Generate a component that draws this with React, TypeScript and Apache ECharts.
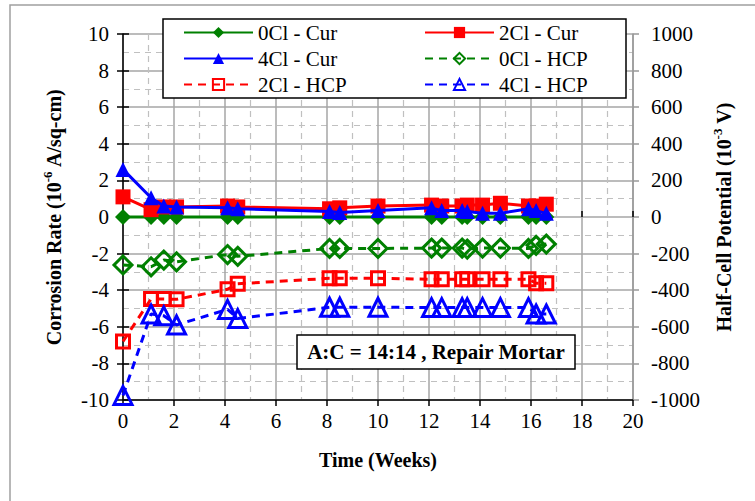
import React, { useEffect, useRef } from 'react';
import * as echarts from 'echarts';

const weeks = [0, 1.1, 1.6, 2.1, 4.1, 4.5, 8.1, 8.5, 10, 12.1, 12.5, 13.3, 13.5, 14.1, 14.8, 15.9, 16.2, 16.6];
const cur0 = [0, 0, 0, 0, 0, 0, 0, 0, 0, 0, 0, 0, 0, 0, 0, 0, 0, 0];
const cur2 = [1.1, 0.4, 0.55, 0.55, 0.6, 0.55, 0.45, 0.5, 0.6, 0.65, 0.6, 0.6, 0.65, 0.65, 0.75, 0.6, 0.6, 0.7];
const cur4 = [2.6, 1.05, 0.6, 0.55, 0.5, 0.45, 0.3, 0.25, 0.35, 0.5, 0.35, 0.35, 0.3, 0.2, 0.2, 0.45, 0.35, 0.2];
const hcp0 = [-262, -272, -235, -245, -205, -215, -172, -172, -172, -170, -170, -170, -175, -170, -170, -172, -155, -148];
const hcp2 = [-680, -448, -448, -450, -395, -365, -335, -335, -335, -340, -340, -340, -340, -340, -340, -340, -362, -362];
const hcp4 = [-975, -530, -540, -590, -505, -555, -493, -493, -493, -495, -495, -495, -495, -495, -495, -495, -530, -530];

const xTicks = { min: 0, max: 20, interval: 2 };
const leftTicks = { min: -10, max: 10, interval: 2 };
const rightTicks = { min: -1000, max: 1000, interval: 200 };

const seriesNames = ['0Cl - Cur', '2Cl - Cur', '4Cl - Cur', '0Cl - HCP', '2Cl - HCP', '4Cl - HCP'];
const annotation = 'A:C = 14:14 , Repair Mortar';

const FONT = 'Liberation Serif';
const GREEN = '#008000';
const RED = '#ff0000';
const BLUE = '#0000ff';

const pair = (ys: number[]) => weeks.map((w, i) => [w, ys[i]]);

export default function App() {
  const ref = useRef<HTMLDivElement>(null);
  useEffect(() => {
    document.body.style.margin = '0';
    const chart = echarts.init(ref.current!, null, { renderer: 'svg' });
    const labelStyle = { color: '#000', fontSize: 21, fontFamily: FONT };
    const titleRich = {
      b: { fontSize: 20, fontWeight: 'bold', fontFamily: FONT, color: '#000', lineHeight: 26 },
      s: { fontSize: 13, fontWeight: 'bold', fontFamily: FONT, color: '#000', verticalAlign: 'top', lineHeight: 14 },
    };
    const plain = (v: number) => String(v);
    const option: any = {
      animation: false,
      backgroundColor: '#fff',
      textStyle: { fontFamily: FONT },
      grid: { left: 123, right: 122, top: 34, bottom: 101 },
      xAxis: [
        {
          type: 'value', ...xTicks, position: 'bottom',
          axisLine: { show: true, onZero: false, lineStyle: { color: '#000', width: 1.5 } },
          axisTick: { show: true, length: 6, lineStyle: { color: '#000', width: 1.5 } },
          axisLabel: { ...labelStyle, margin: 10, formatter: plain },
          splitLine: { show: true, lineStyle: { color: '#a6a6a6', width: 1.5 } },
          minorTick: { show: false, splitNumber: 2 },
          minorSplitLine: { show: true, lineStyle: { color: '#c0c0c0', width: 1.2, type: [6, 5] } },
          name: 'Time (Weeks)', nameLocation: 'middle', nameGap: 50,
          nameTextStyle: { fontSize: 20, fontWeight: 'bold', fontFamily: FONT, color: '#000' },
        },
        {
          type: 'value', ...xTicks, position: 'bottom',
          axisLine: { show: false },
          axisTick: { show: true, inside: true, length: 6, lineStyle: { color: '#000', width: 1.5 } },
          axisLabel: { show: false }, splitLine: { show: false },
        },
      ],
      yAxis: [
        {
          type: 'value', ...leftTicks, position: 'left',
          axisLine: { show: true, onZero: false, lineStyle: { color: '#000', width: 1.5 } },
          axisTick: { show: true, length: 6, lineStyle: { color: '#000', width: 1.5 } },
          axisLabel: { ...labelStyle, margin: 14, formatter: plain },
          splitLine: { show: true, lineStyle: { color: '#a6a6a6', width: 1.5 } },
          minorTick: { show: false, splitNumber: 2 },
          minorSplitLine: { show: true, lineStyle: { color: '#c0c0c0', width: 1.2, type: [6, 5] } },
          name: '{b|Corrosion Rate (10}{s|-6}{b| A/sq-cm)}', nameLocation: 'middle', nameRotate: 90, nameGap: 56,
          nameTextStyle: { rich: titleRich },
        },
        {
          type: 'value', ...rightTicks, position: 'right',
          axisLine: { show: true, onZero: false, lineStyle: { color: '#999', width: 1.5 } },
          axisTick: { show: true, length: 6, lineStyle: { color: '#999', width: 1.5 } },
          axisLabel: { ...labelStyle, margin: 18, formatter: plain },
          splitLine: { show: false },
          name: '{b|Half-Cell Potential (10}{s|-3}{b| V)}', nameLocation: 'middle', nameRotate: 90, nameGap: 72,
          nameTextStyle: { rich: titleRich },
        },
        {
          type: 'value', ...leftTicks, position: 'left',
          axisLine: { show: false },
          axisTick: { show: true, inside: true, length: 6, lineStyle: { color: '#000', width: 1.5 } },
          axisLabel: { show: false }, splitLine: { show: false },
        },
      ],
      legend: [
        {
          data: [seriesNames[0], seriesNames[2], seriesNames[4]],
          orient: 'vertical', left: 183, top: 22, itemWidth: 69, itemHeight: 14, itemGap: 5, padding: 0,
          textStyle: { ...labelStyle }, selectedMode: false,
        },
        {
          data: [seriesNames[1], seriesNames[3], seriesNames[5]],
          orient: 'vertical', left: 424, top: 22, itemWidth: 69, itemHeight: 14, itemGap: 5, padding: 0,
          textStyle: { ...labelStyle }, selectedMode: false,
        },
      ],
      graphic: [
        { type: 'rect', z: 0, silent: true, shape: { x: 10, y: 5, width: 800, height: 600 }, style: { fill: 'none', stroke: '#a0a0a0', lineWidth: 1.5 } },
        { type: 'rect', z: 3, silent: true, shape: { x: 163, y: 19, width: 463, height: 79 }, style: { fill: '#fff', stroke: '#000', lineWidth: 1.5 } },
        { type: 'rect', z: 3, silent: true, shape: { x: 297, y: 335, width: 278, height: 34 }, style: { fill: '#fff', stroke: '#000', lineWidth: 1.5 } },
        {
          type: 'text', z: 4, silent: true, x: 436, y: 352,
          style: { text: annotation, fill: '#000', font: `bold 21px '${FONT}'`, textAlign: 'center', textVerticalAlign: 'middle' },
        },
      ],
      series: [
        {
          name: seriesNames[0], type: 'line', xAxisIndex: 0, yAxisIndex: 0, data: pair(cur0), z: 2,
          symbol: 'diamond', symbolSize: 16,
          lineStyle: { color: GREEN, width: 3 }, itemStyle: { color: GREEN },
        },
        {
          name: seriesNames[1], type: 'line', xAxisIndex: 0, yAxisIndex: 0, data: pair(cur2), z: 3,
          symbol: 'rect', symbolSize: 15,
          lineStyle: { color: RED, width: 3 }, itemStyle: { color: RED },
        },
        {
          name: seriesNames[2], type: 'line', xAxisIndex: 0, yAxisIndex: 0, data: pair(cur4), z: 4,
          symbol: 'triangle', symbolSize: 15,
          lineStyle: { color: BLUE, width: 3 }, itemStyle: { color: BLUE },
        },
        {
          name: seriesNames[3], type: 'line', xAxisIndex: 0, yAxisIndex: 1, data: pair(hcp0), z: 2,
          symbol: 'diamond', symbolSize: 18,
          lineStyle: { color: GREEN, width: 3, type: [8, 6] },
          itemStyle: { color: 'rgba(255,255,255,0)', borderColor: GREEN, borderWidth: 3 },
        },
        {
          name: seriesNames[4], type: 'line', xAxisIndex: 0, yAxisIndex: 1, data: pair(hcp2), z: 2,
          symbol: 'rect', symbolSize: 13,
          lineStyle: { color: RED, width: 3, type: [8, 6] },
          itemStyle: { color: 'rgba(255,255,255,0)', borderColor: RED, borderWidth: 3 },
        },
        {
          name: seriesNames[5], type: 'line', xAxisIndex: 0, yAxisIndex: 1, data: pair(hcp4), z: 2,
          symbol: 'triangle', symbolSize: 18,
          lineStyle: { color: BLUE, width: 3, type: [8, 6] },
          itemStyle: { color: 'rgba(255,255,255,0)', borderColor: BLUE, borderWidth: 3 },
        },
      ],
    };
    chart.setOption(option);
    return () => chart.dispose();
  }, []);
  return <div ref={ref} style={{ width: 755, height: 501 }} />;
}
